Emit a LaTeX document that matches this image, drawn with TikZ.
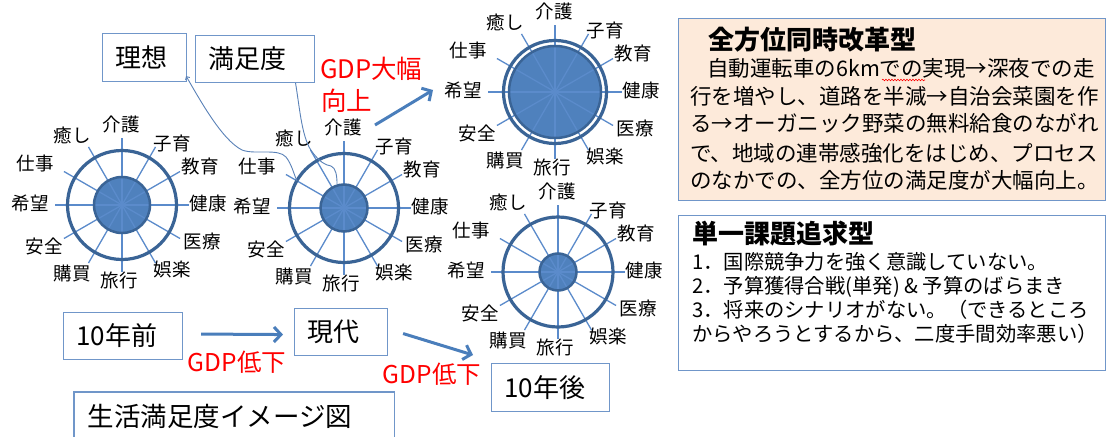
\documentclass[tikz,border=0pt]{standalone}
\usepackage{fontspec}
\setmainfont{Noto Sans CJK JP}
\usetikzlibrary{arrows.meta,calc,decorations.pathmorphing}
\definecolor{ringc}{HTML}{3A6496}
\definecolor{fillc}{HTML}{4F81BD}
\definecolor{spokec}{HTML}{5B8BCB}
\definecolor{boxc}{HTML}{7096C9}
\definecolor{arrowc}{HTML}{4A7EBB}
\definecolor{peach}{HTML}{FDEADA}
\definecolor{calloutc}{HTML}{5A82B8}
\definecolor{gdpred}{HTML}{FF0000}
\tikzset{
  spoke/.style={draw=spokec, line width=1.3pt},
  innerline/.style={draw=ringc, line width=2.5pt},
  outerline/.style={draw=ringc, line width=3.2pt},
  lab/.style={font=\fontsize{18.5}{20}\selectfont, inner sep=0pt, text=black},
  box/.style={draw=boxc, line width=1.1pt, inner xsep=13pt, inner ysep=0pt, align=left,
    font=\fontsize{26}{30}\selectfont, anchor=north west},
  redtxt/.style={text=gdpred, font=\fontsize{25.5}{30}\selectfont, inner sep=0pt},
  bigarrow/.style={draw=arrowc, line width=3pt, -{Straight Barb[length=7pt,width=15pt]}},
  callout/.style={draw=calloutc, line width=0.9pt},
  peachtxt/.style={font=\fontsize{21.5}{28}\selectfont, anchor=west, inner sep=0pt},
  bluetxt/.style={font=\fontsize{20.3}{24}\selectfont, anchor=west, inner sep=0pt},
  boxtitle/.style={font=\fontsize{26}{30}\selectfont\bfseries, anchor=west, inner sep=0pt},
}
\newcommand\satwheel[5]{%
  \coordinate (#1) at (#2,#3);
  \fill[fillc] (#1) circle[radius=#4pt];
  \foreach \a in {0,30,...,330} \draw[spoke] (#1) -- ++(\a:67);
  \draw[innerline] (#1) circle[radius=#4pt];
  \draw[outerline] (#1) circle[radius=#5pt];
  \foreach \t/\dx/\dy [count=\i] in {健康/86/-1, 教育/78/-39, 子育/50/-62, 介護/-1/-81,
      癒し/-50/-70, 仕事/-87/-42, 希望/-92/-2, 安全/-78/41, 購買/-50/69, 旅行/-3/75,
      娯楽/50/64, 医療/80/36}
    \node[lab] (#1l\i) at ($(#1)+(\dx,\dy)$) {\t};
}
\begin{document}
\begin{tikzpicture}[x=1pt,y=-1pt]
\useasboundingbox (0,0) rectangle (1107,436);
\fill[white] (0,0) rectangle (1107,436);

% wheels
\satwheel{c1}{122}{205}{28}{54.5}
\satwheel{c2}{344}{208}{23.5}{54.5}
\satwheel{c3}{555}{92}{46}{51.5}
\satwheel{c4}{558}{272}{18.5}{55}

% boxes
\node[box, text width=58pt, minimum height=48pt] (ri) at (102,33) {理想};
\node[box, text width=93pt, minimum height=47pt] (ma) at (195,35) {満足度};
\node[box, text width=93pt, minimum height=47pt] (b1) at (63,312) {10年前};
\node[box, text width=67pt, minimum height=47pt] (b2) at (294,308) {現代};
\node[box, text width=92pt, minimum height=48pt] (b3) at (491,363) {10年後};
\node[box, draw=none, text width=293pt, minimum height=48pt, font=\fontsize{26.5}{30}\selectfont] (ti) at (74,392) {生活満足度イメージ図};
\draw[boxc, line width=1.1pt] ($(ti.south west)+(0,-4)$) -- (ti.north west) -- (ti.north east) -- ($(ti.south east)+(0,-4)$);

% red texts
\node[redtxt, anchor=west] (g1) at (320,69) {GDP大幅};
\node[redtxt, anchor=west] (g2) at (321,100.5) {向上};
\node[redtxt, font=\fontsize{24.5}{28}\selectfont] (gl1) at (237,362) {GDP低下};
\node[redtxt, font=\fontsize{24.5}{28}\selectfont] (gl2) at (432,374) {GDP低下};

% big arrows
\draw[bigarrow] ($(b1.east)+(18,-2)$) -- ($(b2.west)+(-11,2.5)$);
\draw[bigarrow] ($(b2.east)+(15,1.5)$) -- ($(b3.north west)+(-18,-8)$);
\draw[bigarrow] ($(c2)+(31,-83)$) -- ($(c3)+(-122,-2)$);

% callouts
\draw[callout, {Straight Barb[length=2.5pt,width=5pt]}-] ($(ri.south east)+(-1,-6)$)
  .. controls (200,100) and (222,140) .. (242,150)
  .. controls (255,155) and (278,148) .. (286,157)
  .. controls (292,165) and (293,172) .. ($(c2)+(-47,-27)$);
\draw[callout] ($(ma.south)+(40.5,0)$)
  .. controls (300,110) and (302,140) .. (313,153)
  .. controls (320,162) and (325,165) .. (331,166)
  .. controls (336,168) and (337,176) .. ($(c2)+(-7,-24)$);

% right top box
\node[draw=boxc, line width=1.1pt, fill=peach, minimum width=427pt, minimum height=182pt, anchor=north west, inner sep=0pt] (pbox) at (678,18) {};
\node[boxtitle] (pt) at (708,40) {全方位同時改革型};
\node[peachtxt] (p1) at (707,68) {自動運転車の6kmでの実現→深夜での走};
\node[peachtxt] (p2) at (690,96) {行を増やし、道路を半減→自治会菜園を作};
\node[peachtxt] (p3) at (690,123) {る→オーガニック野菜の無料給食のながれ};
\node[peachtxt] (p4) at (690,153) {で、地域の連帯感強化をはじめ、プロセス};
\node[peachtxt] (p5) at (690,180) {のなかでの、全方位の満足度が大幅向上。};
\draw[red, line width=0.6pt, decorate, decoration={snake, amplitude=0.8pt, segment length=3pt}] (882,80) -- (925,80);

% right bottom box
\node[draw=boxc, line width=1.1pt, fill=white, minimum width=427pt, minimum height=155pt, anchor=north west, inner sep=0pt] (bbox) at (678,215) {};
\node[boxtitle] (bt) at (692,234) {単一課題追求型};
\node[bluetxt] (q1) at (692,262) {1．国際競争力を強く意識していない。};
\node[bluetxt] (q2) at (692,287) {2．予算獲得合戦(単発) \& 予算のばらまき};
\node[bluetxt] (q3) at (692,310) {3．将来のシナリオがない。（できるところ};
\node[bluetxt] (q4) at (692,334) {からやろうとするから、二度手間効率悪い）};
\end{tikzpicture}
\end{document}
